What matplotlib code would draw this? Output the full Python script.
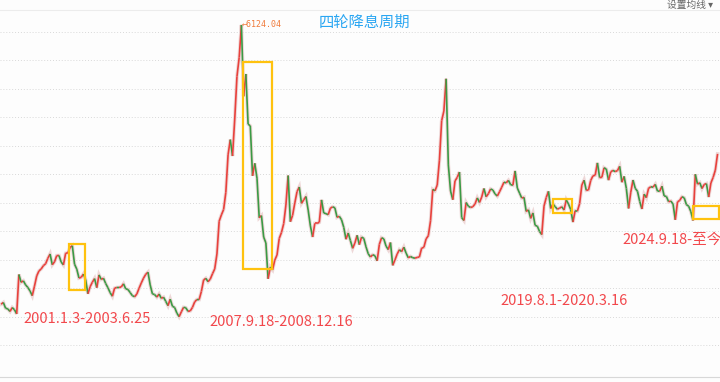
import numpy as np
import matplotlib
matplotlib.use("Agg")
import matplotlib.pyplot as plt
from matplotlib.patches import Rectangle
from matplotlib.collections import LineCollection

plt.rcParams['font.family'] = ['Noto Sans CJK SC', 'DejaVu Sans']

# ── data: Shanghai Composite, monthly (visual values incl. key highs/lows) ──
start_year, start_month = 1998, 10
index_values = [
    1217, 1247, 1147,                                                   # 1998
    1134, 1090, 1158, 1120, 1047, 1739, 1601, 1628, 1556, 1512, 1448, 1367,  # 1999
    1535, 1714, 1801, 1836, 1894, 1928, 2023, 2100, 1910, 1961, 2071, 2073,  # 2000
    1958, 1907, 2112, 2120, 2214, 2245, 1920, 1834, 1676, 1689, 1747, 1646,  # 2001
    1400, 1524, 1603, 1667, 1508, 1732, 1653, 1673, 1581, 1507, 1420, 1357,  # 2002
    1499, 1511, 1510, 1521, 1576, 1487, 1476, 1421, 1367, 1348, 1397, 1497,  # 2003
    1590, 1675, 1742, 1780, 1555, 1399, 1386, 1342, 1396, 1320, 1340, 1267,  # 2004
    1191, 1306, 1181, 1159, 1060, 998, 1083, 1162, 1155, 1092, 1099, 1161,   # 2005
    1258, 1299, 1298, 1440, 1641, 1672, 1612, 1658, 1752, 1837, 2099, 2675,  # 2006
    2786, 2881, 3183, 3841, 4109, 3821, 4471, 5218, 5552, 6124, 4871, 5262,  # 2007
    4383, 4348, 3473, 3693, 3433, 2736, 2775, 2397, 2293, 1664, 1871, 1821,  # 2008
    1991, 2082, 2373, 2477, 2632, 2959, 3478, 2667, 2779, 2996, 3195, 3277,  # 2009
    2989, 3051, 3110, 2871, 2592, 2398, 2638, 2638, 2656, 3050, 2820, 2808,  # 2010
    2790, 2905, 2928, 2911, 2743, 2762, 2701, 2567, 2359, 2468, 2333, 2199,  # 2011
    2292, 2428, 2263, 2396, 2373, 2225, 2103, 2047, 2086, 2069, 1980, 2269,  # 2012
    2385, 2365, 2237, 2177, 2301, 1900, 1994, 2098, 2175, 2141, 2220, 2116,  # 2013
    2033, 2056, 2033, 2026, 2039, 2048, 2202, 2217, 2364, 2420, 2683, 3235,  # 2014
    3210, 3310, 3748, 4442, 4612, 5178, 3664, 3206, 3053, 3383, 3445, 3539,  # 2015
    2738, 2688, 3004, 2938, 2917, 2930, 2979, 3085, 3005, 3100, 3250, 3104,  # 2016
    3159, 3242, 3223, 3155, 3117, 3192, 3273, 3361, 3349, 3393, 3317, 3307,  # 2017
    3559, 3259, 3169, 3082, 3095, 2847, 2876, 2725, 2821, 2603, 2588, 2494,  # 2018
    2440, 2941, 3091, 3200, 2899, 2979, 2932, 2886, 2905, 2929, 2872, 3050,  # 2019
    2977, 2880, 2660, 2860, 2852, 2985, 3310, 3396, 3218, 3225, 3392, 3473,  # 2020
    3483, 3700, 3442, 3447, 3615, 3591, 3397, 3544, 3568, 3547, 3564, 3640,  # 2021
    3361, 3463, 3252, 2900, 3186, 3399, 3253, 3202, 3024, 2890, 3151, 3089,  # 2022
    3255, 3280, 3273, 3323, 3205, 3202, 3291, 3120, 3110, 3018, 3030, 2975,  # 2023
    2700, 3015, 3041, 3105, 3087, 2967, 2939, 2842, 2689, 3500, 3326, 3352,  # 2024
    3250, 3321, 3336, 3100, 3347, 3444, 3573, 3858,                         # 2025
]

peak_value = 6124.04
peak_year = 2007.79

# rate-cut cycles: (start, end, top, bottom)
cycle_labels = ["2001.1.3-2003.6.25", "2007.9.18-2008.12.16",
                "2019.8.1-2020.3.16", "2024.9.18-至今"]
box_start = [2001.33, 2007.85, 2019.46, 2024.70]
box_end = [2001.93, 2008.94, 2020.17, 2025.68]
box_top = [2275, 5473, 3066, 2943]
box_bottom = [1467, 1836, 2820, 2714]
label_x = [1999.61, 2006.58, 2017.51, 2022.05]
label_y = [957, 904, 1273, 2345]

grid_levels = np.arange(500, 6001, 500)

# ── figure ──
fig = plt.figure(figsize=(7.2, 3.82), dpi=100)
fig.patch.set_facecolor("#fdfdfd")
ax = fig.add_axes([0, 5 / 382, 1, 367 / 382])
ax.set_facecolor("#fdfdfd")

n = len(index_values)
months = np.arange(n) + (start_month - 1)
t = start_year + (months + 0.5) / 12
vals = np.array(index_values, dtype=float)

# pale shadow under the price path
ax.plot(t, vals, color="#e9c9c9", lw=2.6, alpha=0.7, zorder=2,
        solid_joinstyle="miter")

# red for rising months, green for falling months
segs = [[(t[i - 1], vals[i - 1]), (t[i], vals[i])] for i in range(1, n)]
cols = ["#e8413c" if vals[i] >= vals[i - 1] else "#3b9a45" for i in range(1, n)]
ax.add_collection(LineCollection(segs, colors=cols, linewidths=1.2, zorder=3))

for g in grid_levels:
    ax.axhline(g, color="#d9d9d9", lw=0.7, ls=(0, (1, 2)), zorder=1)

for s, e, top, bot in zip(box_start, box_end, box_top, box_bottom):
    ax.add_patch(Rectangle((s, bot), e - s, top - bot, fill=False,
                           edgecolor="#ffc20e", lw=1.6, zorder=5, clip_on=False))

for lab, x, y in zip(cycle_labels, label_x, label_y):
    ax.text(x, y, lab, color="#f2484c", fontsize=10.5, ha="left", va="center", zorder=6)

ax.text(2012.38, 6176, "四轮降息周期", color="#2aa6f2", fontsize=11,
        ha="center", va="center", zorder=6)
ax.text(peak_year + 0.03, peak_value, f"←{peak_value:.2f}", color="#f07a3a",
        fontsize=6, ha="left", va="center", family="DejaVu Sans Mono", zorder=6)

ax.set_xlim(1998.75, 1998.75 + 720 / 26.7)
ax.set_ylim(6000 - 345 / 0.05691, 6000 + 22 / 0.05691)
for side in ["left", "right"]:
    ax.spines[side].set_visible(False)
ax.spines["top"].set_color("#ececec")
ax.spines["bottom"].set_color("#d8d8d8")
ax.set_xticks([]); ax.set_yticks([])

fig.text(0.99, 0.988, "设置均线 ▾", color="#666666", fontsize=7,
         ha="right", va="center")

fig.savefig("out.png", dpi=100, facecolor=fig.get_facecolor())
